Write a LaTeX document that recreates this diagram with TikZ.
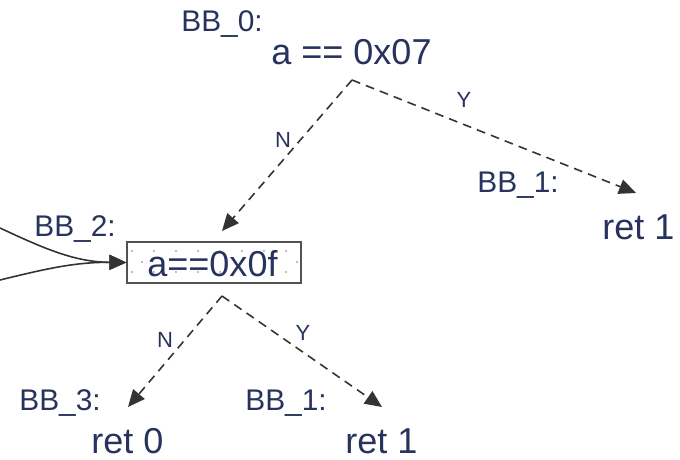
\documentclass[tikz,border=0pt]{standalone}
\usepackage{fontspec}
\setmainfont{Liberation Sans}
\usepackage{xcolor}
\usepackage{tikz}
\usetikzlibrary{arrows.meta, positioning, calc}
\definecolor{ink}{HTML}{27335C}
\definecolor{wire}{HTML}{333333}
\definecolor{speck}{HTML}{A8A8A8}

\tikzset{
  code/.style={anchor=base west, inner sep=0pt, ink, font=\fontsize{20.5}{24}\selectfont},
  bblabel/.style={anchor=base west, inner sep=0pt, ink, font=\fontsize{17}{20}\selectfont},
  edgelabel/.style={inner sep=0pt, ink, font=\fontsize{12.5}{15}\selectfont},
  branch/.style={dashed, dash pattern=on 5pt off 3.5pt, wire, line width=0.9pt,
    -{Triangle[length=3.4mm, width=3mm]}},
  feed/.style={wire, line width=0.9pt, -{Triangle[length=3.4mm, width=3mm]}}
}

\begin{document}
\begin{tikzpicture}
  \useasboundingbox (0,0) rectangle (13.6,9.18);
  % Block BB_0
  \node[bblabel] (bb0) at (3.62,8.54) {BB\_0:};
  \node[code] (cmp0) at (5.42,7.88) {a == 0x07};
  \coordinate (split0) at (7.04,7.58);
  % Block BB_1 (top right)
  \node[bblabel] (bb1a) at (9.54,5.32) {BB\_1:};
  \node[code] (ret1a) at (12.04,4.38) {ret 1};
  \coordinate (hit1a) at (12.72,5.32);
  % Block BB_2
  \node[bblabel] (bb2) at (0.68,4.44) {BB\_2:};
  \node[draw=wire!85, line width=0.7pt, minimum width=3.48cm, minimum height=0.82cm,
    inner sep=0pt] (box2) at (4.28,3.93) {};
  \foreach \k in {0,...,7} {
    \fill[speck] (2.64+0.44*\k,4.16) circle (0.7pt);
    \fill[speck] (2.64+0.44*\k,3.74) circle (0.7pt);
  }
  \fill[speck] (2.84,3.94) circle (0.7pt);
  \fill[speck] (5.94,3.94) circle (0.7pt);
  \node[code] (cmp2) at (2.94,3.64) {a==0x0f};
  \coordinate (hit2) at (4.44,4.56);
  \coordinate (split2) at (4.44,3.26);
  % Block BB_3 and BB_1 (bottom)
  \node[bblabel] (bb3) at (0.38,0.98) {BB\_3:};
  \node[code] (ret0) at (1.82,0.12) {ret 0};
  \coordinate (hit3) at (2.56,1.04);
  \node[bblabel] (bb1b) at (4.90,0.98) {BB\_1:};
  \node[code] (ret1b) at (6.90,0.12) {ret 1};
  \coordinate (hit1b) at (7.64,1.04);
  % Branches
  \draw[branch] (split0) -- (hit2);
  \draw[branch] (split0) -- (hit1a);
  \node[edgelabel] (n0) at (5.66,6.38) {N};
  \node[edgelabel] (y0) at (9.28,7.18) {Y};
  \draw[branch] (split2) -- (hit3);
  \draw[branch] (split2) -- (hit1b);
  \node[edgelabel] (n2) at (3.30,2.38) {N};
  \node[edgelabel] (y2) at (6.06,2.52) {Y};
  % Incoming edges
  \coordinate (from1) at (0,4.62);
  \coordinate (from2) at (0,3.58);
  \draw[feed] (from1) .. controls (0.9,4.2) and (1.5,3.94) .. (box2.west);
  \draw[feed] (from2) .. controls (0.9,3.8) and (1.5,3.94) .. (box2.west);
\end{tikzpicture}
\end{document}
